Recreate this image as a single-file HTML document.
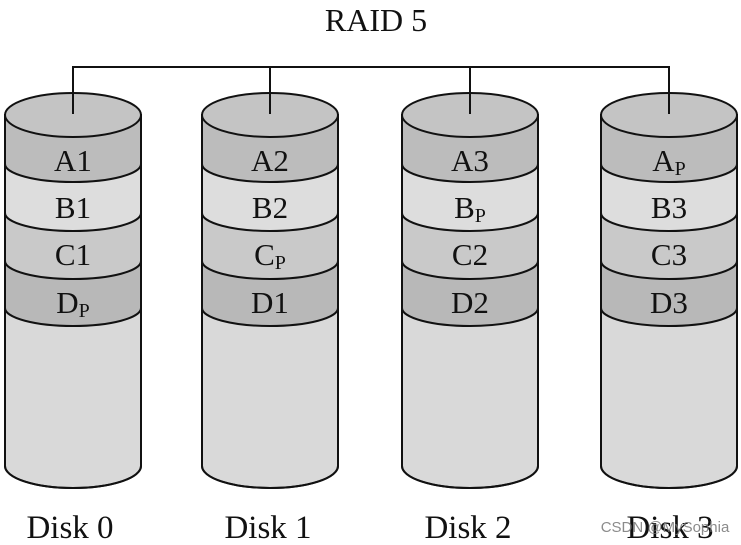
<!DOCTYPE html>
<html><head><meta charset="utf-8"><style>
html,body{margin:0;padding:0;background:#fff;width:741px;height:545px;overflow:hidden}
</style></head><body>
<svg width="741" height="545" viewBox="0 0 741 545" xmlns="http://www.w3.org/2000/svg" font-family="'Liberation Serif',serif">
<defs>
<g id="cyl">
  <path d="M-68,115 L-68,466 A68,22 0 0 0 68,466 L68,115 Z" fill="#d9d9d9" stroke="#111" stroke-width="2"/>
  <path d="M-68,115 A68,22 0 0 0 68,115 L68,164 A68,18 0 0 1 -68,164 Z" fill="#bcbcbc"/>
  <path d="M-68,164 A68,18 0 0 0 68,164 L68,213 A68,18 0 0 1 -68,213 Z" fill="#dddddd"/>
  <path d="M-68,213 A68,18 0 0 0 68,213 L68,261 A68,18 0 0 1 -68,261 Z" fill="#c9c9c9"/>
  <path d="M-68,261 A68,18 0 0 0 68,261 L68,308 A68,18 0 0 1 -68,308 Z" fill="#b8b8b8"/>
  <g fill="none" stroke="#111" stroke-width="2">
    <path d="M-68,164 A68,18 0 0 0 68,164"/>
    <path d="M-68,213 A68,18 0 0 0 68,213"/>
    <path d="M-68,261 A68,18 0 0 0 68,261"/>
    <path d="M-68,308 A68,18 0 0 0 68,308"/>
    <path d="M-68,115 L-68,466 A68,22 0 0 0 68,466 L68,115"/>
  </g>
  <ellipse cx="0" cy="115" rx="68" ry="22" fill="#c4c4c4" stroke="#111" stroke-width="2"/>
</g>
</defs>
<text x="376" y="31" font-size="32" text-anchor="middle" fill="#111">RAID 5</text>
<use href="#cyl" x="73"/>
<use href="#cyl" x="270"/>
<use href="#cyl" x="470"/>
<use href="#cyl" x="669"/>
<g fill="none" stroke="#111" stroke-width="2">
<path d="M73,114 V67 H669 V114"/>
<path d="M270,67 V114"/>
<path d="M470,67 V114"/>
</g>
<g font-size="31" text-anchor="middle" fill="#111">
<text x="73" y="171">A1</text><text x="73" y="218">B1</text><text x="73" y="265">C1</text><text x="73" y="313">D<tspan font-size="20" dy="4">P</tspan></text>
<text x="270" y="171">A2</text><text x="270" y="218">B2</text><text x="270" y="265">C<tspan font-size="20" dy="4">P</tspan></text><text x="270" y="313">D1</text>
<text x="470" y="171">A3</text><text x="470" y="218">B<tspan font-size="20" dy="4">P</tspan></text><text x="470" y="265">C2</text><text x="470" y="313">D2</text>
<text x="669" y="171">A<tspan font-size="20" dy="4">P</tspan></text><text x="669" y="218">B3</text><text x="669" y="265">C3</text><text x="669" y="313">D3</text>
</g>
<g font-size="33" text-anchor="middle" fill="#111">
<text x="70" y="538">Disk 0</text>
<text x="268" y="538">Disk 1</text>
<text x="468" y="538">Disk 2</text>
<text x="670" y="538">Disk 3</text>
</g>
<text x="665" y="532" font-family="'Liberation Sans',sans-serif" font-size="15" text-anchor="middle" fill="#777" opacity="0.85">CSDN @MySophia</text>
</svg>
</body></html>
